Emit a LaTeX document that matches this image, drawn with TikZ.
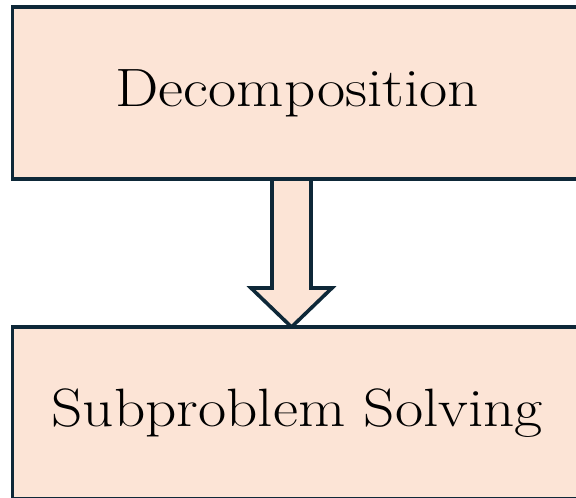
\documentclass[tikz,border=0pt]{standalone}
\usepackage{graphicx}
\usetikzlibrary{calc}
\definecolor{boxfill}{RGB}{252,228,214}
\definecolor{boxline}{RGB}{14,40,56}
\newcommand\widelabel[1]{\scalebox{1.135}[1]{#1}}
\tikzset{
  stagebox/.style={draw=boxline, fill=boxfill, line width=3.6pt,
    minimum width=569.5pt, minimum height=172pt, inner sep=0pt,
    font=\fontsize{54}{58}\selectfont},
  blockarrow/.style={draw=boxline, fill=boxfill, line width=3.6pt, line join=miter}
}
\begin{document}
\begin{tikzpicture}[x=1pt,y=1pt]
\useasboundingbox (0,0) rectangle (576,-498);
\coordinate (atop) at (291.5,-179);
\coordinate (atip) at (291.5,-327);
\path[blockarrow] ($(atop)+(-19.5,0)$) -- ($(atop)+(-19.5,-109)$) -- ($(atop)+(-40.5,-109)$)
  -- (atip) -- ($(atop)+(40.5,-109)$) -- ($(atop)+(19.5,-109)$) -- ($(atop)+(19.5,0)$);
\node[stagebox] (decomp) at (297.25,-93) {\widelabel{Decomposition}};
\node[stagebox] (solve) at (297.25,-413) {\widelabel{Subproblem Solving}};
\end{tikzpicture}
\end{document}
